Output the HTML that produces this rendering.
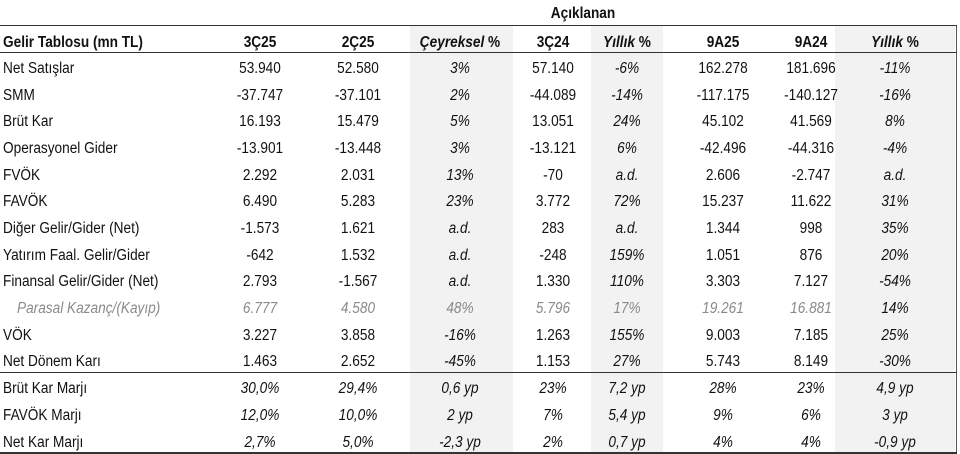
<!DOCTYPE html>
<html><head><meta charset="utf-8"><style>
*{margin:0;padding:0;box-sizing:border-box}
body{width:960px;height:454px;background:#fff;position:relative;overflow:hidden;font-family:"Liberation Sans",Arial,sans-serif;font-size:15.5px;color:#111}
.sh{position:absolute;top:26px;height:427px;background:#f2f2f2}
.hl{position:absolute;left:0;width:957px;background:#333}
.r{position:absolute;left:0;width:960px;height:18px;line-height:18px}
.r span{position:absolute;top:0;width:110px;text-align:center;white-space:nowrap;transform:scaleX(0.88)}
.r span.l{left:3px;text-align:left;width:240px;transform-origin:0 50%}
.c1{left:205px}.c2{left:303px}.c3{left:405px}.c4{left:498px}.c5{left:572px}.c6{left:668px}.c7{left:756px}.c8{left:840px}
.i{font-style:italic}
.g span{color:#8a8a8a;font-style:italic}
.g span.c8{color:#111}
.h span{font-weight:bold}
.m span{font-style:italic}
.m span.l{font-style:normal}
</style></head><body>
<div class="sh" style="left:410px;width:103px"></div>
<div class="sh" style="left:591px;width:72px"></div>
<div class="sh" style="left:835px;width:120px"></div>
<div style="position:absolute;left:956px;top:25px;width:1px;height:429px;background:#555"></div>
<div class="hl" style="top:25px;height:1px"></div>
<div class="hl" style="top:52px;height:1px"></div>
<div class="hl" style="top:372px;height:1px"></div>
<div class="hl" style="top:452px;height:2px"></div>
<div class="r h" style="top:5px"><span style="left:528px">Açıklanan</span></div>
<div class="r h" style="top:34px"><span class="l">Gelir Tablosu (mn TL)</span><span class="c1">3Ç25</span><span class="c2">2Ç25</span><span class="c3"><i>Çeyreksel</i> %</span><span class="c4">3Ç24</span><span class="c5"><i>Yıllık</i> %</span><span class="c6">9A25</span><span class="c7">9A24</span><span class="c8"><i>Yıllık</i> %</span></div>

<div class="r" style="top:60px"><span class="l">Net Satışlar</span><span class="c1">53.940</span><span class="c2">52.580</span><span class="c3 i">3%</span><span class="c4">57.140</span><span class="c5 i">-6%</span><span class="c6">162.278</span><span class="c7">181.696</span><span class="c8 i">-11%</span></div>
<div class="r" style="top:87px"><span class="l">SMM</span><span class="c1">-37.747</span><span class="c2">-37.101</span><span class="c3 i">2%</span><span class="c4">-44.089</span><span class="c5 i">-14%</span><span class="c6">-117.175</span><span class="c7">-140.127</span><span class="c8 i">-16%</span></div>
<div class="r" style="top:113px"><span class="l">Brüt Kar</span><span class="c1">16.193</span><span class="c2">15.479</span><span class="c3 i">5%</span><span class="c4">13.051</span><span class="c5 i">24%</span><span class="c6">45.102</span><span class="c7">41.569</span><span class="c8 i">8%</span></div>
<div class="r" style="top:140px"><span class="l">Operasyonel Gider</span><span class="c1">-13.901</span><span class="c2">-13.448</span><span class="c3 i">3%</span><span class="c4">-13.121</span><span class="c5 i">6%</span><span class="c6">-42.496</span><span class="c7">-44.316</span><span class="c8 i">-4%</span></div>
<div class="r" style="top:167px"><span class="l">FVÖK</span><span class="c1">2.292</span><span class="c2">2.031</span><span class="c3 i">13%</span><span class="c4">-70</span><span class="c5 i">a.d.</span><span class="c6">2.606</span><span class="c7">-2.747</span><span class="c8 i">a.d.</span></div>
<div class="r" style="top:193px"><span class="l">FAVÖK</span><span class="c1">6.490</span><span class="c2">5.283</span><span class="c3 i">23%</span><span class="c4">3.772</span><span class="c5 i">72%</span><span class="c6">15.237</span><span class="c7">11.622</span><span class="c8 i">31%</span></div>
<div class="r" style="top:220px"><span class="l">Diğer Gelir/Gider (Net)</span><span class="c1">-1.573</span><span class="c2">1.621</span><span class="c3 i">a.d.</span><span class="c4">283</span><span class="c5 i">a.d.</span><span class="c6">1.344</span><span class="c7">998</span><span class="c8 i">35%</span></div>
<div class="r" style="top:247px"><span class="l">Yatırım Faal. Gelir/Gider</span><span class="c1">-642</span><span class="c2">1.532</span><span class="c3 i">a.d.</span><span class="c4">-248</span><span class="c5 i">159%</span><span class="c6">1.051</span><span class="c7">876</span><span class="c8 i">20%</span></div>
<div class="r" style="top:273px"><span class="l">Finansal Gelir/Gider (Net)</span><span class="c1">2.793</span><span class="c2">-1.567</span><span class="c3 i">a.d.</span><span class="c4">1.330</span><span class="c5 i">110%</span><span class="c6">3.303</span><span class="c7">7.127</span><span class="c8 i">-54%</span></div>
<div class="r g" style="top:300px"><span class="l" style="left:17px">Parasal Kazanç/(Kayıp)</span><span class="c1">6.777</span><span class="c2">4.580</span><span class="c3">48%</span><span class="c4">5.796</span><span class="c5">17%</span><span class="c6">19.261</span><span class="c7">16.881</span><span class="c8">14%</span></div>
<div class="r" style="top:327px"><span class="l">VÖK</span><span class="c1">3.227</span><span class="c2">3.858</span><span class="c3 i">-16%</span><span class="c4">1.263</span><span class="c5 i">155%</span><span class="c6">9.003</span><span class="c7">7.185</span><span class="c8 i">25%</span></div>
<div class="r" style="top:353px"><span class="l">Net Dönem Karı</span><span class="c1">1.463</span><span class="c2">2.652</span><span class="c3 i">-45%</span><span class="c4">1.153</span><span class="c5 i">27%</span><span class="c6">5.743</span><span class="c7">8.149</span><span class="c8 i">-30%</span></div>
<div class="r m" style="top:380px"><span class="l">Brüt Kar Marjı</span><span class="c1">30,0%</span><span class="c2">29,4%</span><span class="c3">0,6 yp</span><span class="c4">23%</span><span class="c5">7,2 yp</span><span class="c6">28%</span><span class="c7">23%</span><span class="c8">4,9 yp</span></div>
<div class="r m" style="top:407px"><span class="l">FAVÖK Marjı</span><span class="c1">12,0%</span><span class="c2">10,0%</span><span class="c3">2 yp</span><span class="c4">7%</span><span class="c5">5,4 yp</span><span class="c6">9%</span><span class="c7">6%</span><span class="c8">3 yp</span></div>
<div class="r m" style="top:434px"><span class="l">Net Kar Marjı</span><span class="c1">2,7%</span><span class="c2">5,0%</span><span class="c3">-2,3 yp</span><span class="c4">2%</span><span class="c5">0,7 yp</span><span class="c6">4%</span><span class="c7">4%</span><span class="c8">-0,9 yp</span></div>
</body></html>
